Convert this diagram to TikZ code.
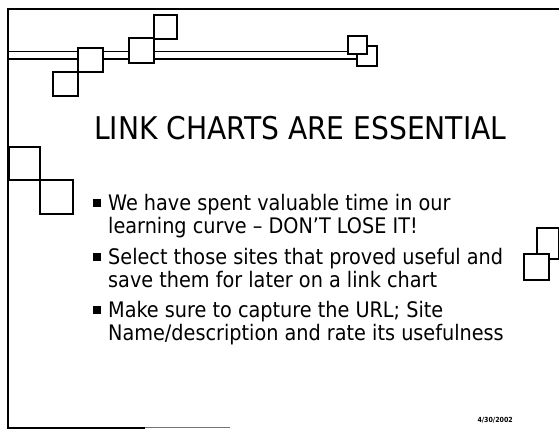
\documentclass[tikz,border=0pt]{standalone}
\usepackage{fontspec}
\setmainfont{DejaVu Sans Condensed}
\usetikzlibrary{backgrounds}
\begin{document}
\begin{tikzpicture}[x=1pt,y=1pt,
  sq/.style={draw=black,fill=white,line width=1.8pt,inner sep=0pt,anchor=south west},
  bul/.style={fill=black,inner sep=0pt,minimum size=8pt,anchor=south west},
  txt/.style={anchor=base west,inner sep=0pt,font=\fontsize{21.4}{24}\selectfont},
  frame/.style={line width=1.8pt}]
\useasboundingbox (0,0) rectangle (559,430);
% frame
\coordinate (tl) at (8,421);
\coordinate (tr) at (559,421);
\coordinate (bl) at (8,2);
\coordinate (bm) at (145,2);
\coordinate (br) at (230,2);
\draw[frame] (tr) -- (tl) -- (bl) -- (bm);
\draw[line width=1pt,black!55] (bm) -- (br);
% squares on the double line
\node[sq,minimum width=20pt,minimum height=20pt] (F) at (356,363) {};
\node[sq,minimum width=19pt,minimum height=18pt] (E) at (347,375) {};
\node[sq,minimum width=25pt,minimum height=24pt] (A) at (77,357) {};
\node[sq,minimum width=25pt,minimum height=24pt] (B) at (52,333) {};
\node[sq,minimum width=25pt,minimum height=25pt] (C) at (128,366) {};
\node[sq,minimum width=23pt,minimum height=24pt] (D) at (153,390) {};
\coordinate (dl1) at (8,378);
\coordinate (dl2) at (8,371);
% left squares
\node[sq,minimum width=31pt,minimum height=33pt] (I) at (8,249) {};
\node[sq,minimum width=33pt,minimum height=34pt] (J) at (39,215) {};
% right squares
\node[sq,minimum width=22pt,minimum height=31pt] (G) at (536,170) {};
\node[sq,minimum width=25pt,minimum height=26pt] (H) at (523,149) {};
% title
\node[anchor=base west,inner sep=0pt,font=\fontsize{31.3}{36}\selectfont] (title) at (94,290) {LINK CHARTS ARE ESSENTIAL};
% bullets
\node[bul] (b1) at (93,223) {};
\node[txt] (l1) at (108,219) {We have spent valuable time in our};
\node[txt] (l2) at (108,196) {learning curve -- DON'T LOSE IT!};
\node[bul] (b2) at (93,169) {};
\node[txt] (l3) at (108,165) {Select those sites that proved useful and};
\node[txt] (l4) at (108,142) {save them for later on a link chart};
\node[bul] (b3) at (93,116) {};
\node[txt] (l5) at (108,112) {Make sure to capture the URL; Site};
\node[txt] (l6) at (108,89) {Name/description and rate its usefulness};
% date
\node[anchor=base east,inner sep=0pt,font=\fontsize{7}{8}\selectfont\bfseries] (date) at (513,7) {4/30/2002};
\begin{scope}[on background layer]
\fill[white] (0,0) rectangle (559,430);
\draw[line width=1pt] (dl1) -- (dl1 -| E.west);
\draw[line width=2pt] (dl2) -- (dl2 -| F.west);
\end{scope}
\end{tikzpicture}
\end{document}
